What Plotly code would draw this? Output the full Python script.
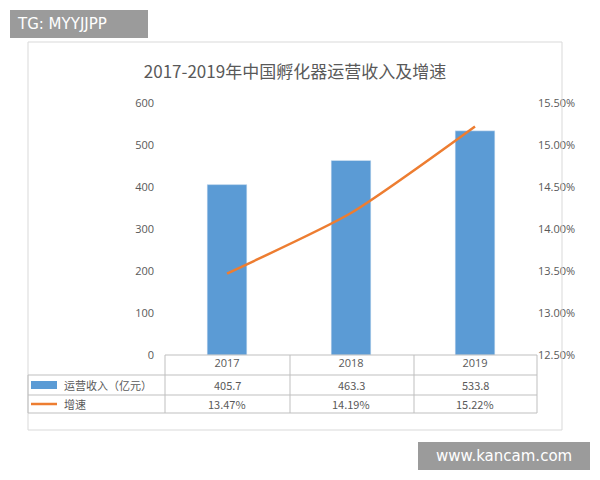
import plotly.graph_objects as go

years = ["2017", "2018", "2019"]
revenue = [405.7, 463.3, 533.8]
growth = [13.47, 14.19, 15.22]
rev_labels = ["405.7", "463.3", "533.8"]
growth_labels = ["13.47%", "14.19%", "15.22%"]
series_names = ["运营收入（亿元）", "增速"]
left_ticks = [0, 100, 200, 300, 400, 500, 600]
right_ticks = [12.5, 13.0, 13.5, 14.0, 14.5, 15.0, 15.5]

W, H = 600, 480
OFF = 8  # page body margin
L, R, T, B = 165 - OFF, 63 + OFF, 103 - OFF, 125 + OFF
PW, PH = W - L - R, H - T - B
def px(x): return (x - OFF - L) / PW
def py(y): return (H - B - (y - OFF)) / PH

blue = "#5b9bd5"; orange = "#ed7d31"; font = "Noto Sans CJK SC"

fig = go.Figure()
fig.add_bar(x=years, y=revenue, marker_color=blue, width=0.32, name=series_names[0])
fig.add_scatter(x=years, y=growth, yaxis="y2", mode="lines", line=dict(color=orange, width=2.5, shape="spline", smoothing=0.6), name=series_names[1])

shapes = []
ann = []
def text(x, y, t, size=11, color="#595959", fam=font, xa="center"):
    ann.append(dict(xref="paper", yref="paper", x=x, y=y, text=t, showarrow=False, xanchor=xa, yanchor="middle",
                    font=dict(size=size, color=color, family=fam)))

shapes.append(dict(type="rect", xref="paper", yref="paper", x0=px(28), x1=px(562), y0=py(430), y1=py(42), line=dict(color="#d9d9d9", width=1)))
gray = "#bfbfbf"
for yy in [375, 395, 413]:
    shapes.append(dict(type="line", xref="paper", yref="paper", x0=px(28), x1=px(537), y0=py(yy), y1=py(yy), line=dict(color=gray, width=1)))
shapes.append(dict(type="line", xref="paper", yref="paper", x0=px(165), x1=px(537), y0=py(355), y1=py(355), line=dict(color=gray, width=1)))
for xx in [165, 290, 414, 537]:
    shapes.append(dict(type="line", xref="paper", yref="paper", x0=px(xx), x1=px(xx), y0=py(413), y1=py(355), line=dict(color=gray, width=1)))
shapes.append(dict(type="line", xref="paper", yref="paper", x0=px(28), x1=px(28), y0=py(413), y1=py(375), line=dict(color=gray, width=1)))
shapes.append(dict(type="rect", xref="paper", yref="paper", x0=px(31), x1=px(57), y0=py(389), y1=py(381), fillcolor=blue, line=dict(width=0)))
shapes.append(dict(type="line", xref="paper", yref="paper", x0=px(31), x1=px(57), y0=py(404), y1=py(404), line=dict(color=orange, width=2.5)))
text(px(62), py(385), series_names[0], xa="left")
text(px(62), py(404), series_names[1], xa="left")
n = len(years)
for i in range(n):
    xc = (i + 0.5) / n
    text(xc, py(385), rev_labels[i])
    text(xc, py(404), growth_labels[i])
shapes.append(dict(type="rect", xref="paper", yref="paper", x0=px(10), x1=px(148), y0=py(38), y1=py(10), fillcolor="#9b9b9b", line=dict(width=0)))
text(px(15), py(24), "TG: MYYJJPP", size=15, color="white", fam="DejaVu Sans", xa="left")
shapes.append(dict(type="rect", xref="paper", yref="paper", x0=px(418), x1=px(590), y0=py(470), y1=py(442), fillcolor="#9b9b9b", line=dict(width=0)))
text(px(504), py(456), "www.kancam.com", size=15, color="white", fam="DejaVu Sans")

fig.update_layout(
    width=W, height=H, margin=dict(l=L, r=R, t=T, b=B),
    paper_bgcolor="white", plot_bgcolor="white", showlegend=False,
    title=dict(text="2017-2019年中国孵化器运营收入及增速", x=px(295), xanchor="center", xref="paper", y=1 - (72 - OFF) / H, yanchor="middle",
               font=dict(size=17, color="#595959", family=font)),
    xaxis=dict(showline=False, ticks="", tickfont=dict(size=11, color="#595959"), range=[-0.5, 2.5]),
    yaxis=dict(range=[0, 600], tickvals=left_ticks, showgrid=False, zeroline=False, tickfont=dict(size=11, color="#595959"), ticklen=0, ticklabelstandoff=10),
    yaxis2=dict(overlaying="y", side="right", range=[12.5, 15.5], tickvals=right_ticks,
                ticktext=[f"{v:.2f}%" for v in right_ticks], showgrid=False, zeroline=False,
                tickfont=dict(size=11, color="#595959")),
    shapes=shapes, annotations=ann, bargap=0.6,
)
fig.write_html("out.html")
